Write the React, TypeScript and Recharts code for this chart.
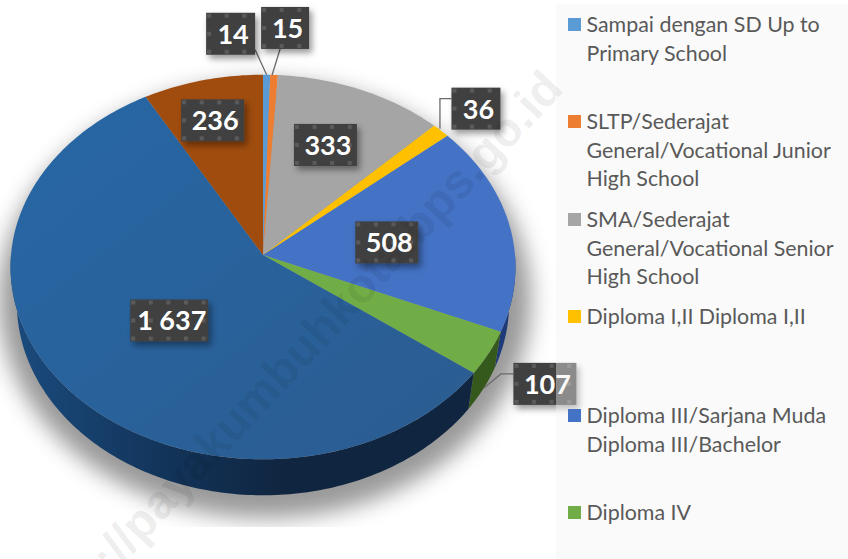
import { PieChart, Pie, Legend } from 'recharts';

// --- Education breakdown ---
const names = [
  'Sampai dengan SD Up to Primary School',
  'SLTP/Sederajat General/Vocational Junior High School',
  'SMA/Sederajat General/Vocational Senior High School',
  'Diploma I,II Diploma I,II',
  'Diploma III/Sarjana Muda Diploma III/Bachelor',
  'Diploma IV',
  'Slice 7',
  'Slice 8',
];
const values = [14, 15, 333, 36, 508, 107, 1637, 236];
const colors = ['#5b9bd5', '#ed7d31', '#a5a5a5', '#ffc000', '#4472c4', '#70ad47', 'url(#topBlue)', '#a04c0e'];
const wallColors = ['#34597b', '#8c4a1d', '#626262', '#977200', '#1f3a78', '#35581c', 'url(#wallBlue)', '#5e2c08'];
const legendSwatches = ['#5b9bd5', '#ed7d31', '#a5a5a5', '#ffc000', '#4472c4', '#70ad47'];
const legendTops = [6, 103, 201, 298, 397, 494];

// label box centre, relative to the slice's point on the rim
const labelOffsets = [[-36, -41], [11, -47], [-36, 55], [35, -22], [-123, 16], [56, 31], [103, -67], [10, 40]];
const labelWidths = [49, 48, 63, 49, 63, 63, 78, 63];

const tableData = values.map((value, i) => ({ name: names[i], value, fill: colors[i] }));

// tilted pie projection: the near half is a little larger than the far half
const TILT = 0.754;
const WIDTH = 0.992;
const PERSPECTIVE = 0.0625;
const DEPTH = 36;
const BOTTOM_SHRINK = 0.975;

const project = (cx: number, cy: number, r: number, clock: number) => {
  const rad = (clock * Math.PI) / 180;
  const c = Math.cos(rad);
  const scale = 1 / (1 + PERSPECTIVE * c);
  return { x: cx + r * WIDTH * Math.sin(rad) * scale, y: cy - r * TILT * c * scale };
};

const arcPoints = (cx: number, cy: number, r: number, from: number, to: number) => {
  const steps = Math.max(2, Math.ceil(Math.abs(to - from)));
  const pts = [];
  for (let i = 0; i <= steps; i++) pts.push(project(cx, cy, r, from + ((to - from) * i) / steps));
  return pts;
};

const Slice3D = (props: any) => {
  const { cx, cy, outerRadius, startAngle, endAngle, fill, index } = props;
  const from = 90 - startAngle;
  const to = 90 - endAngle;
  const rim = arcPoints(cx, cy, outerRadius, from, to);
  const top = `M${cx},${cy} ` + rim.map((p) => `L${p.x},${p.y}`).join(' ') + ' Z';
  const wallFrom = Math.max(from, 90);
  const wallTo = Math.min(to, 270);
  let wall = null;
  if (wallTo > wallFrom) {
    const front = arcPoints(cx, cy, outerRadius, wallFrom, wallTo);
    const d =
      front.map((p, i) => `${i ? 'L' : 'M'}${p.x},${p.y}`).join(' ') +
      ' ' +
      [...front]
        .reverse()
        .map((p) => `L${cx + (p.x - cx) * BOTTOM_SHRINK},${p.y + DEPTH}`)
        .join(' ') +
      ' Z';
    wall = <path d={d} fill={wallColors[index]} />;
  }
  return (
    <g>
      {wall}
      <path d={top} fill={fill} />
    </g>
  );
};

const renderLabel = (props: any) => {
  const { cx, cy, outerRadius, midAngle, index, value } = props;
  const anchor = project(cx, cy, outerRadius, 90 - midAngle);
  const [dx, dy] = labelOffsets[index];
  const w = labelWidths[index];
  const h = 42;
  const bx = anchor.x + dx;
  const by = anchor.y + dy;
  const text = value >= 1000 ? `${Math.floor(value / 1000)} ${String(value % 1000).padStart(3, '0')}` : String(value);
  let leader = null;
  if (index === 0) leader = `M${anchor.x},${anchor.y} L${bx + w / 2},${by + 16}`;
  if (index === 1) leader = `M${anchor.x - 2},${anchor.y} L${bx - 5},${by + h / 2}`;
  if (index === 3) leader = `M${anchor.x - 1},${anchor.y - 2} L${anchor.x - 1},${by - 10} L${bx - w / 2},${by - 10}`;
  if (index === 5) leader = `M${anchor.x - 5},${anchor.y + 35} L${anchor.x + 12},${by - 10} L${bx - w / 2},${by - 10}`;
  return (
    <g>
      {leader && <path d={leader} fill="none" stroke="#6b6b6b" strokeWidth={1.3} />}
      <g transform={`translate(${bx - w / 2},${by - h / 2})`}>
        <rect width={w} height={h} fill="#404040" filter="url(#boxShadow)" />
        <rect width={w} height={h} fill="url(#boxDots)" />
      </g>
      <text
        x={bx + 2.5}
        y={by + 10}
        textAnchor="middle"
        fill="#ffffff"
        fontFamily="Lato"
        fontWeight={700}
        fontSize={27}
      >
        {text}
      </text>
    </g>
  );
};

const renderLegend = (props: any) => (
  <div style={{ position: 'relative', width: 292, height: 555 }}>
    {(props.payload || []).slice(0, legendTops.length).map((entry: any, i: number) => (
      <div
        key={entry.value}
        style={{
          position: 'absolute',
          left: 30.5,
          top: legendTops[i],
          width: 259,
          fontFamily: 'Lato',
          fontSize: 21.4,
          lineHeight: '28.7px',
          color: '#595959',
        }}
      >
        <span
          style={{ position: 'absolute', left: -18.5, top: 8, width: 13, height: 13, background: legendSwatches[i] }}
        />
        {entry.value}
      </div>
    ))}
  </div>
);

export default function App() {
  return (
    <div style={{ position: 'absolute', left: 0, top: 0, width: 848, height: 559, background: '#fff', overflow: 'hidden' }}>
      <PieChart width={848} height={559} margin={{ top: 0, right: 0, bottom: 0, left: 0 }}>
        <defs>
          <linearGradient id="topBlue" x1="0" y1="0" x2="1" y2="1">
            <stop offset="0%" stopColor="#2767a6" />
            <stop offset="100%" stopColor="#2b5c90" />
          </linearGradient>
          <linearGradient id="wallBlue" x1="0" y1="0" x2="1" y2="0">
            <stop offset="0%" stopColor="#1a4b7e" />
            <stop offset="35%" stopColor="#123358" />
            <stop offset="60%" stopColor="#10253f" />
            <stop offset="100%" stopColor="#10253f" />
          </linearGradient>
          <pattern id="boxDots" width="17.6" height="18" patternUnits="userSpaceOnUse">
            <rect x="1" y="1" width="4" height="4" fill="#5a5a5a" />
          </pattern>
          <filter id="boxShadow" x="-20%" y="-20%" width="150%" height="150%">
            <feDropShadow dx="3" dy="4" stdDeviation="3" floodColor="#000" floodOpacity="0.4" />
          </filter>
          <filter id="pieShadow" x="-10%" y="-10%" width="120%" height="120%">
            <feGaussianBlur stdDeviation="11" />
          </filter>
          <clipPath id="shadowClip">
            <rect x="0" y="0" width="556" height="527" />
          </clipPath>
        </defs>
        <g clipPath="url(#shadowClip)">
          <ellipse cx={265} cy={300} rx={266} ry={218} fill="#000" fillOpacity={0.4} filter="url(#pieShadow)" />
        </g>
        <Pie
          data={tableData}
          dataKey="value"
          nameKey="name"
          cx={263}
          cy={255}
          outerRadius={254}
          startAngle={90}
          endAngle={-270}
          stroke="none"
          shape={Slice3D}
          label={renderLabel}
          labelLine={false}
          isAnimationActive={false}
        />
        <Legend
          content={renderLegend}
          itemSorter={null}
          wrapperStyle={{
            position: 'absolute',
            left: 556,
            top: 4,
            width: 292,
            height: 555,
            background: 'rgba(243,243,243,0.42)',
          }}
        />
      </PieChart>
      <svg width={848} height={559} style={{ position: 'absolute', left: 0, top: 0, pointerEvents: 'none' }}>
        <text
          x={565}
          y={90}
          textAnchor="end"
          transform="rotate(-47 565 90)"
          fontFamily="Liberation Sans"
          fontWeight={700}
          fontSize={48}
          fill="#000000"
          fillOpacity={0.085}
        >
          https://payakumbuhkota.bps.go.id
        </text>
      </svg>
    </div>
  );
}
